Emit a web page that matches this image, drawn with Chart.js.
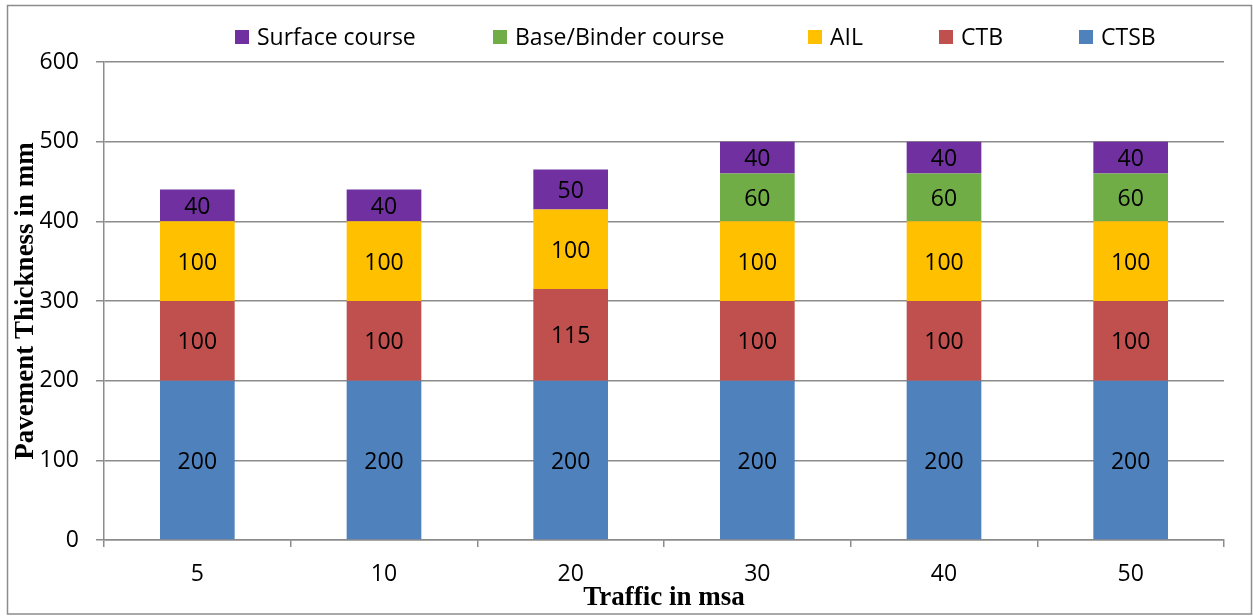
<!DOCTYPE html>
<html>
<head>
<meta charset="utf-8">
<script src="https://cdn.jsdelivr.net/npm/chart.js@4"></script>
<style>
html,body{margin:0;padding:0;background:#fff;}
#wrap{width:1253px;height:616px;position:relative;}
</style>
</head>
<body>
<div id="wrap"><canvas id="c" width="1253" height="616"></canvas></div>
<script>
const categories = ['5', '10', '20', '30', '40', '50'];
const ctsb = [200, 200, 200, 200, 200, 200];
const ctb = [100, 100, 115, 100, 100, 100];
const ail = [100, 100, 100, 100, 100, 100];
const baseBinder = [0, 0, 0, 60, 60, 60];
const surface = [40, 40, 50, 40, 40, 40];
const yTicks = [0, 100, 200, 300, 400, 500, 600];

const FONT = "'Open Sans', sans-serif";
const SERIF = "'Liberation Serif', 'Times New Roman', serif";

const valueLabels = {
  id: 'valueLabels',
  afterDatasetsDraw(chart) {
    const ctx = chart.ctx;
    ctx.save();
    ctx.font = '23px ' + FONT;
    ctx.fillStyle = '#000';
    ctx.textAlign = 'center';
    ctx.textBaseline = 'middle';
    chart.data.datasets.forEach((ds, i) => {
      const meta = chart.getDatasetMeta(i);
      meta.data.forEach((bar, j) => {
        const v = ds.data[j];
        if (!v) return;
        const yc = (bar.y + bar.base) / 2;
        ctx.fillText(String(v), bar.x, yc + 2);
      });
    });
    ctx.restore();
  }
};

const customLegend = {
  id: 'customLegend',
  afterDraw(chart) {
    const ctx = chart.ctx;
    ctx.save();
    ctx.strokeStyle = '#8c8c8c';
    ctx.lineWidth = 1.5;
    ctx.strokeRect(7.5, 5.5, 1244, 608.5);
    const order = [4, 3, 2, 1, 0];
    const boxX = [235, 493, 808, 939, 1079];
    ctx.font = '23px ' + FONT;
    ctx.textBaseline = 'middle';
    ctx.textAlign = 'left';
    order.forEach((di, k) => {
      const ds = chart.data.datasets[di];
      ctx.fillStyle = ds.backgroundColor;
      ctx.fillRect(boxX[k], 30, 14, 14);
      ctx.fillStyle = '#000';
      ctx.fillText(ds.label, boxX[k] + 22, 38.5);
    });
    ctx.restore();
  }
};

new Chart(document.getElementById('c'), {
  type: 'bar',
  data: {
    labels: categories,
    datasets: [
      { label: 'CTSB', data: ctsb, backgroundColor: '#4F81BD' },
      { label: 'CTB', data: ctb, backgroundColor: '#C0504D' },
      { label: 'AIL', data: ail, backgroundColor: '#FFC000' },
      { label: 'Base/Binder course', data: baseBinder, backgroundColor: '#70AD47' },
      { label: 'Surface course', data: surface, backgroundColor: '#7030A0' }
    ]
  },
  options: {
    responsive: false,
    animation: false,
    devicePixelRatio: 1,
    layout: { padding: { top: 62, right: 29, bottom: 0, left: 0 } },
    datasets: { bar: { barPercentage: 0.4, categoryPercentage: 1.0, borderWidth: 0 } },
    plugins: {
      legend: { display: false },
      tooltip: { enabled: false },
      title: { display: false }
    },
    scales: {
      x: {
        stacked: true,
        afterFit(s) { s.height = 76; },
        grid: { display: true, drawOnChartArea: false, drawTicks: true, tickLength: 7, color: '#8c8c8c', lineWidth: 1.5, offset: true },
        border: { display: true, color: '#8c8c8c', width: 1.5 },
        ticks: { font: { family: FONT, size: 23 }, color: '#000', padding: 14, maxRotation: 0 },
        title: { display: true, text: 'Traffic in msa', font: { family: SERIF, size: 27, weight: 'bold' }, color: '#000', padding: { top: 0, bottom: 2 } }
      },
      y: {
        stacked: true,
        min: 0,
        max: 600,
        afterFit(s) { s.width = 104; },
        afterBuildTicks(s) { s.ticks = yTicks.map(v => ({ value: v })); },
        grid: { color: '#8c8c8c', lineWidth: 1.5, tickLength: 8, drawTicks: true },
        border: { display: true, color: '#8c8c8c', width: 1.5 },
        ticks: { font: { family: FONT, size: 23 }, color: '#000', padding: 17 },
        title: { display: true, text: 'Pavement Thickness in mm', font: { family: SERIF, size: 27, weight: 'bold' }, color: '#000', padding: { top: 10, bottom: 0 } }
      }
    }
  },
  plugins: [valueLabels, customLegend]
});
</script>
</body>
</html>
